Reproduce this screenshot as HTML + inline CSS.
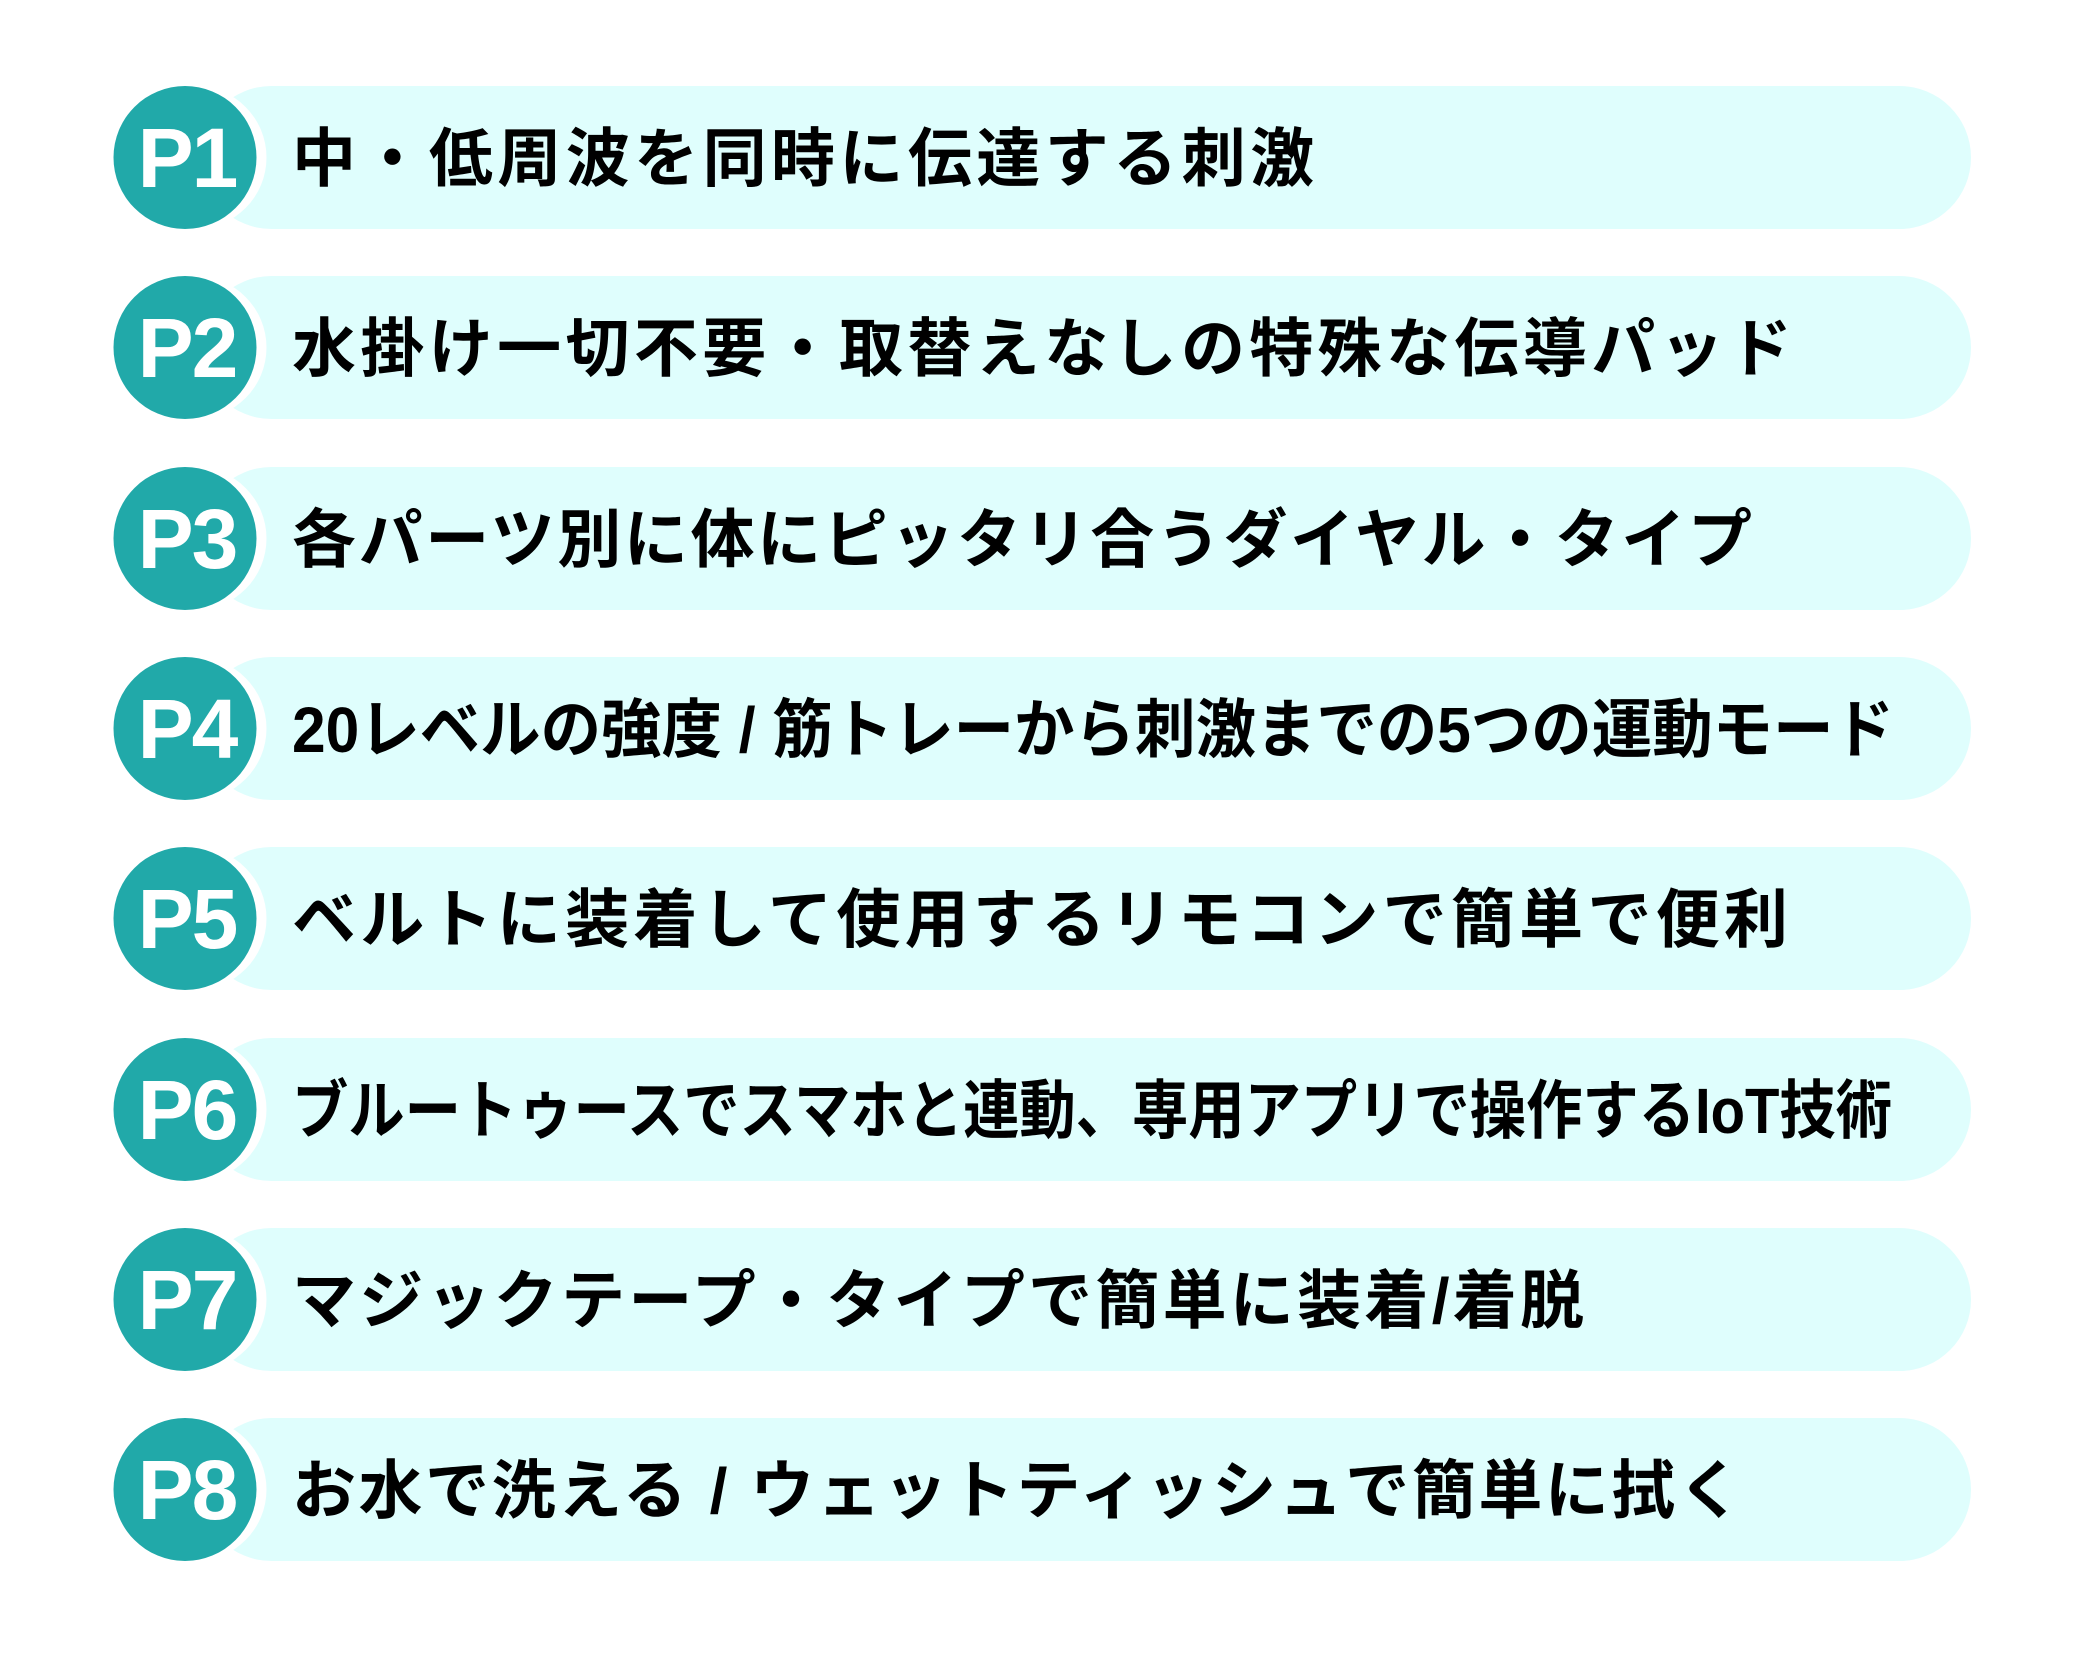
<!DOCTYPE html>
<html><head><meta charset="utf-8"><style>
html,body{margin:0;padding:0;background:#fff}
svg{display:block}
text{font-family:"Liberation Sans","Noto Sans CJK JP",sans-serif;font-weight:bold}
</style></head><body>
<svg width="2084" height="1668" viewBox="0 0 2084 1668" xmlns="http://www.w3.org/2000/svg">
<defs>
<g id="row">
<rect x="200" y="0" width="1771" height="143" rx="71.5" fill="#dffefd"/>
<circle cx="195" cy="71.5" r="71.5" fill="#fff"/>
<circle cx="185" cy="71.5" r="71.5" fill="#21a9a9"/>
</g>
</defs>
<g transform="translate(0,86)"><use href="#row"/><text x="187" y="101" text-anchor="middle" font-size="84" fill="#fff" letter-spacing="-2">P1</text><text x="292" y="95" font-size="64" textLength="1022" lengthAdjust="spacing">中・低周波を同時に伝達する刺激</text></g>
<g transform="translate(0,276)"><use href="#row"/><text x="187" y="101" text-anchor="middle" font-size="84" fill="#fff" letter-spacing="-2">P2</text><text x="292" y="95" font-size="64" textLength="1500" lengthAdjust="spacing">水掛け一切不要・取替えなしの特殊な伝導パッド</text></g>
<g transform="translate(0,467)"><use href="#row"/><text x="187" y="101" text-anchor="middle" font-size="84" fill="#fff" letter-spacing="-2">P3</text><text x="292" y="95" font-size="64" textLength="1460" lengthAdjust="spacing">各パーツ別に体にピッタリ合うダイヤル・タイプ</text></g>
<g transform="translate(0,657)"><use href="#row"/><text x="187" y="101" text-anchor="middle" font-size="84" fill="#fff" letter-spacing="-2">P4</text><text x="292" y="95" font-size="64" textLength="1602" lengthAdjust="spacingAndGlyphs">20レベルの強度 / 筋トレーから刺激までの5つの運動モード</text></g>
<g transform="translate(0,847)"><use href="#row"/><text x="187" y="101" text-anchor="middle" font-size="84" fill="#fff" letter-spacing="-2">P5</text><text x="292" y="95" font-size="64" textLength="1496" lengthAdjust="spacing">ベルトに装着して使用するリモコンで簡単で便利</text></g>
<g transform="translate(0,1038)"><use href="#row"/><text x="187" y="101" text-anchor="middle" font-size="84" fill="#fff" letter-spacing="-2">P6</text><text x="292" y="95" font-size="64" textLength="1600" lengthAdjust="spacingAndGlyphs">ブルートゥースでスマホと連動、専用アプリで操作するIoT技術</text></g>
<g transform="translate(0,1228)"><use href="#row"/><text x="187" y="101" text-anchor="middle" font-size="84" fill="#fff" letter-spacing="-2">P7</text><text x="292" y="95" font-size="64" textLength="1292" lengthAdjust="spacing">マジックテープ・タイプで簡単に装着/着脱</text></g>
<g transform="translate(0,1418)"><use href="#row"/><text x="187" y="101" text-anchor="middle" font-size="84" fill="#fff" letter-spacing="-2">P8</text><text x="292" y="95" font-size="64" textLength="1450" lengthAdjust="spacing">お水で洗える / ウェットティッシュで簡単に拭く</text></g>
</svg>
</body></html>
